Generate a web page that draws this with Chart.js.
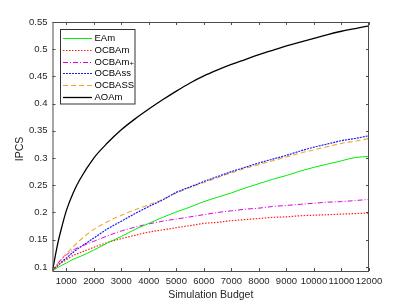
<!DOCTYPE html>
<html>
<head>
<meta charset="utf-8">
<script src="https://cdn.jsdelivr.net/npm/chart.js@4/dist/chart.umd.min.js"></script>
<style>
  html, body { margin: 0; padding: 0; background: #fff; }
  #wrap { width: 407px; height: 305px; }
</style>
</head>
<body>
<div id="wrap"><canvas id="myChart" width="407" height="305"></canvas></div>
<script>
// budgets (x) and curves
const budget = [500, 600, 700, 800, 1000, 1250, 1500, 2000, 2500, 3000, 3500, 4000, 4500, 5000,
  5500, 6000, 6500, 7000, 7500, 8000, 8500, 9000, 9500, 10000, 10500, 11000, 11500, 12000];

const eam = [0.093, 0.096, 0.099, 0.102, 0.107, 0.114, 0.119, 0.131, 0.144, 0.156, 0.169, 0.180, 0.191, 0.201,
  0.210, 0.220, 0.228, 0.236, 0.245, 0.253, 0.261, 0.268, 0.276, 0.283, 0.289, 0.295, 0.301, 0.303];
const ocbam = [0.093, 0.098, 0.103, 0.107, 0.113, 0.121, 0.126, 0.136, 0.145, 0.152, 0.158, 0.164, 0.168, 0.172,
  0.176, 0.180, 0.182, 0.185, 0.187, 0.189, 0.191, 0.192, 0.194, 0.195, 0.196, 0.197, 0.198, 0.199];
const ocbamPlus = [0.093, 0.100, 0.107, 0.113, 0.122, 0.131, 0.137, 0.147, 0.157, 0.166, 0.173, 0.179, 0.184, 0.188,
  0.192, 0.196, 0.200, 0.203, 0.206, 0.208, 0.211, 0.213, 0.215, 0.217, 0.219, 0.220, 0.222, 0.224];
const ocbass = [0.093, 0.098, 0.103, 0.108, 0.116, 0.127, 0.136, 0.153, 0.170, 0.184, 0.198, 0.211, 0.223, 0.237,
  0.247, 0.257, 0.266, 0.275, 0.283, 0.291, 0.298, 0.305, 0.313, 0.320, 0.326, 0.332, 0.336, 0.341];
const ocbaSS = [0.093, 0.100, 0.107, 0.113, 0.124, 0.137, 0.149, 0.169, 0.183, 0.195, 0.205, 0.214, 0.224, 0.236,
  0.246, 0.255, 0.264, 0.273, 0.281, 0.288, 0.295, 0.302, 0.309, 0.315, 0.321, 0.327, 0.331, 0.336];
const aoam = [0.093, 0.120, 0.145, 0.166, 0.203, 0.236, 0.261, 0.300, 0.328, 0.352, 0.372, 0.390, 0.407, 0.423,
  0.438, 0.451, 0.462, 0.472, 0.481, 0.490, 0.498, 0.506, 0.513, 0.520, 0.527, 0.533, 0.538, 0.543];

const xTicks = [1000, 2000, 3000, 4000, 5000, 6000, 7000, 8000, 9000, 10000, 11000, 12000];
const yTicks = [0.1, 0.15, 0.2, 0.25, 0.3, 0.35, 0.4, 0.45, 0.5, 0.55];

const FONT = "'Liberation Sans', Arial, 'DejaVu Sans', sans-serif";
const AXIS = '#4d4d4d';

function pts(ys) {
    return budget.map((x, i) => ({ x: x, y: ys[i] }));
}

function serie(label, ys, color, dash, width) {
    return {
        label: label,
        data: pts(ys),
        borderColor: color,
        borderWidth: width || 1,
        borderDash: dash,
        pointRadius: 0,
        cubicInterpolationMode: 'monotone',
        fill: false
    };
}

// cadre, petites graduations vers l'intérieur, titres et légende
const frame = {
    id: 'frame',
    afterDraw(chart) {
        const ctx = chart.ctx;
        const a = chart.chartArea;
        const sx = chart.scales.x, sy = chart.scales.y;
        ctx.save();
        ctx.strokeStyle = AXIS;
        ctx.lineWidth = 1;
        ctx.strokeRect(a.left + 0.5, a.top + 0.5, a.right - a.left - 1, a.bottom - a.top);
        ctx.beginPath();
        xTicks.forEach(t => {
            const p = Math.round(sx.getPixelForValue(t)) + 0.5;
            ctx.moveTo(p, a.bottom); ctx.lineTo(p, a.bottom - 3);
            ctx.moveTo(p, a.top); ctx.lineTo(p, a.top + 3);
        });
        yTicks.forEach(t => {
            const p = Math.round(sy.getPixelForValue(t)) + 0.5;
            ctx.moveTo(a.left, p); ctx.lineTo(a.left + 3, p);
            ctx.moveTo(a.right, p); ctx.lineTo(a.right - 3, p);
        });
        ctx.stroke();

        // axis titles
        ctx.fillStyle = '#262626';
        ctx.font = '10.5px ' + FONT;
        ctx.textAlign = 'center';
        ctx.textBaseline = 'middle';
        ctx.fillText('Simulation Budget', (a.left + a.right) / 2, 295.5);
        ctx.save();
        ctx.translate(20, 149);
        ctx.rotate(-Math.PI / 2);
        ctx.fillText('IPCS', 0, 0);
        ctx.restore();

        // legend
        const bx = 60.5, by = 29.5, bw = 74.5, bh = 74.5;
        ctx.fillStyle = '#fff';
        ctx.fillRect(bx, by, bw, bh);
        ctx.strokeStyle = '#333';
        ctx.strokeRect(bx, by, bw, bh);
        ctx.font = '9.5px ' + FONT;
        ctx.textAlign = 'left';
        chart.data.datasets.forEach((ds, i) => {
            const y = Math.round(38 + i * 11.8) + 0.5;
            ctx.strokeStyle = ds.borderColor;
            ctx.lineWidth = ds.borderWidth;
            ctx.setLineDash(ds.borderDash || []);
            ctx.beginPath();
            ctx.moveTo(63, y); ctx.lineTo(92, y);
            ctx.stroke();
            ctx.setLineDash([]);
            ctx.fillStyle = '#000';
            ctx.fillText(ds.label, 94.5, y);
        });
        ctx.restore();
    }
};

const ctx = document.getElementById('myChart').getContext('2d');
const myChart = new Chart(ctx, {
    type: 'line',
    data: {
        datasets: [
            serie('EAm', eam, '#00ee00', [], 1),
            serie('OCBAm', ocbam, '#ff1a1a', [1.5, 1.5], 1.2),
            serie('OCBAm\u208A', ocbamPlus, '#dd00dd', [5, 2, 1, 2], 1),
            serie('OCBAss', ocbass, '#1a1aff', [2, 1], 1.2),
            serie('OCBASS', ocbaSS, '#eeaa30', [5, 3], 1.1),
            serie('AOAm', aoam, '#000000', [], 1.3)
        ]
    },
    options: {
        responsive: false,
        animation: false,
        layout: { padding: { top: 22, right: 38, bottom: 0, left: 0 } },
        plugins: { legend: { display: false }, tooltip: { enabled: false } },
        scales: {
            x: {
                type: 'linear',
                min: 500,
                max: 12000,
                afterBuildTicks: s => { s.ticks = xTicks.map(v => ({ value: v })); },
                afterFit: s => { s.height = 34; },
                grid: { display: false, drawTicks: false },
                border: { display: false },
                ticks: {
                    autoSkip: false,
                    maxRotation: 0,
                    padding: 5,
                    color: '#262626',
                    font: { family: FONT, size: 9.5 },
                    callback: v => String(v)
                }
            },
            y: {
                min: 0.0925,
                max: 0.55,
                afterBuildTicks: s => { s.ticks = yTicks.map(v => ({ value: v })); },
                afterFit: s => { s.width = 52.5; },
                grid: { display: false, drawTicks: false },
                border: { display: false },
                ticks: {
                    padding: 5,
                    color: '#262626',
                    font: { family: FONT, size: 9.5 },
                    callback: v => String(Math.round(v * 100) / 100)
                }
            }
        }
    },
    plugins: [frame]
});
</script>
</body>
</html>
